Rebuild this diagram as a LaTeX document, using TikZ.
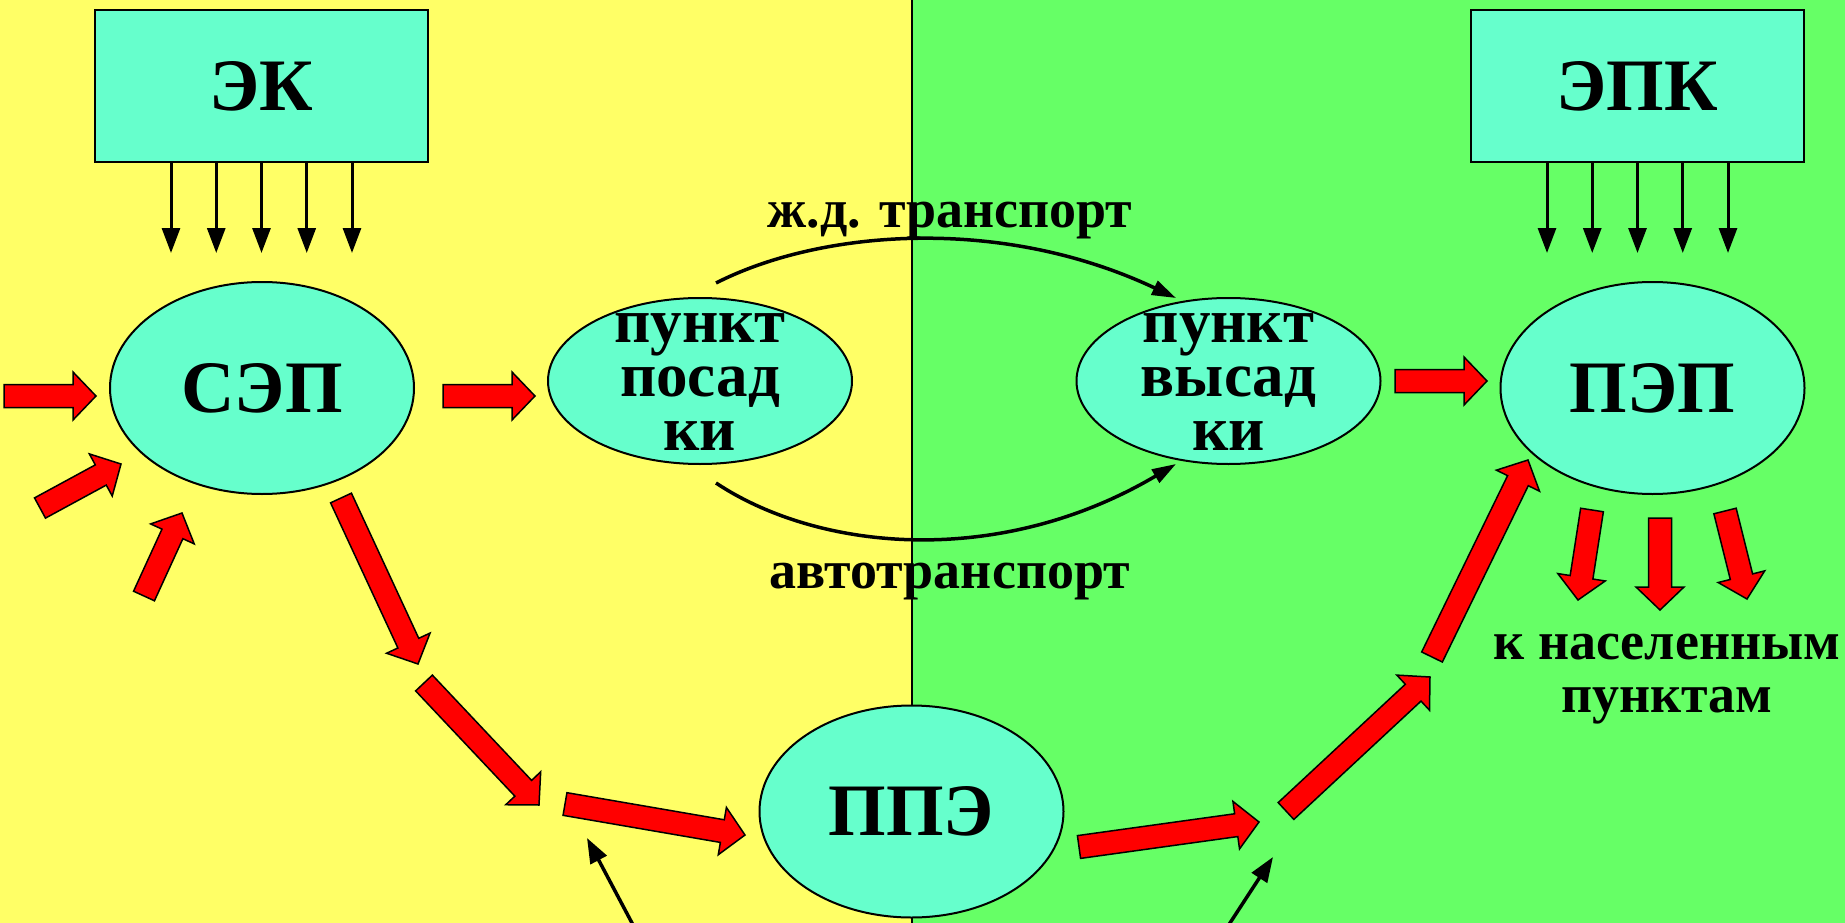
\documentclass[tikz,border=0pt]{standalone}
\usepackage{fontspec}
\setmainfont{Liberation Serif}
\newfontfamily\tnr{Liberation Serif}[BoldFont={Liberation Serif Bold}]
\usetikzlibrary{calc,arrows.meta,shapes.geometric}
\definecolor{bgyellow}{RGB}{255,255,102}
\definecolor{bggreen}{RGB}{102,255,102}
\definecolor{nodecyan}{RGB}{102,255,204}
\definecolor{arrred}{RGB}{255,0,0}
\newcommand\fatarr[2]{%
  \coordinate (fahead) at ($(#2)!23pt!(#1)$);
  \draw[fatarrow] ($(#1)!11.5pt!90:(#2)$) -- ($(fahead)!11.5pt!90:(#2)$) -- ($(fahead)!24pt!90:(#2)$) -- (#2) -- ($(fahead)!24pt!-90:(#2)$) -- ($(fahead)!11.5pt!-90:(#2)$) -- ($(#1)!11.5pt!-90:(#2)$) -- cycle;}
\begin{document}
\begin{tikzpicture}[x=1pt,y=-1pt,
  fatarrow/.style={draw=black,fill=arrred,line width=1.5pt,line join=miter},
  bigtxt/.style={font=\tnr\bfseries\fontsize{74}{80}\selectfont},
  midtxt/.style={font=\tnr\bfseries\fontsize{63}{54}\selectfont,align=center,inner sep=0pt},
  labtxt/.style={font=\tnr\bfseries\fontsize{54}{53}\selectfont,align=center,inner sep=0pt},
  boxnode/.style={draw=black,line width=2pt,fill=nodecyan,minimum width=333pt,minimum height=152pt,inner sep=0pt,bigtxt},
  bigell/.style={ellipse,draw=black,line width=2pt,fill=nodecyan,minimum width=304pt,minimum height=212pt,inner sep=0pt,bigtxt},
  smallell/.style={ellipse,draw=black,line width=2pt,fill=nodecyan,minimum width=304pt,minimum height=166pt,inner sep=0pt},
  thinarrow/.style={draw=black,line width=3pt,-{Triangle[length=25pt,width=18pt]}},
  curvearrow/.style={draw=black,line width=3.5pt,-{Triangle[length=24pt,width=15pt]}}]
\useasboundingbox (0,0) rectangle (1845,923);
\fill[bgyellow] (0,0) rectangle (912,923);
\fill[bggreen] (912,0) rectangle (1845,923);
\coordinate (bordertop) at (912,0);
\coordinate (borderbot) at (912,923);
\draw[line width=2pt] (bordertop) -- (borderbot);

% boxes
\node[boxnode] (ek) at (261.5,86) {ЭК};
\node[boxnode] (epk) at (1637.5,86) {ЭПК};

% ellipses
\node[bigell] (sep) at (262,388) {СЭП};
\node[bigell] (pep) at (1652.5,388) {ПЭП};
\node[bigell] (ppe) at (911.5,811.5) {ППЭ};
\node[smallell] (posadki) at (700,381) {};
\node[smallell] (vysadki) at (1228.5,381) {};
\node[midtxt] (posadkitxt) at (700,382) {пункт\\посад\\ки};
\node[midtxt] (vysadkitxt) at (1228.5,382) {пункт\\высад\\ки};

% labels
\node[labtxt,anchor=base] (rail) at (950,227) {ж.д. транспорт};
\node[labtxt,anchor=base] (auto) at (950,588) {автотранспорт};
\node[labtxt,anchor=base] (towns1) at (1667,659) {к населенным};
\node[labtxt,anchor=base] (towns2) at (1667,712) {пунктам};

% thin arrows from boxes
\foreach \dx in {-90.5,-45.25,0,45.25,90.5}{
  \draw[thinarrow] ($(ek.south)+(\dx,0)$) -- ++(0,90);
  \draw[thinarrow] ($(epk.south)+(\dx,0)$) -- ++(0,90);
}

% transport curves
\coordinate (railstart) at (716,283);
\coordinate (railend) at (1176,298);
\coordinate (autostart) at (716,483);
\coordinate (autoend) at (1176,464);
\draw[curvearrow] (railstart) .. controls (820,230) and (1000,215) .. (railend);
\draw[curvearrow] (autostart) .. controls (820,552) and (1000,568) .. (autoend);

% bottom thin arrows
\coordinate (inl) at (635.7,930);
\coordinate (inlend) at (587,838);
\coordinate (inr) at (1225.4,930);
\coordinate (inrend) at (1273,857);
\draw[thinarrow,line width=3.5pt] (inl) -- (inlend);
\draw[thinarrow,line width=3.5pt] (inr) -- (inrend);

% fat red arrows
\coordinate (a1t) at (4,396);     \coordinate (a1h) at (96,396);
\coordinate (a2t) at (40,508);    \coordinate (a2h) at (121,464);
\coordinate (a3t) at (144,596);   \coordinate (a3h) at (182,513);
\coordinate (a4t) at (443,396);   \coordinate (a4h) at (535,396);
\coordinate (a5t) at (1395,381);  \coordinate (a5h) at (1487,381);
\coordinate (aAt) at (341,498);   \coordinate (aAh) at (418,664);
\coordinate (aBt) at (424,683);   \coordinate (aBh) at (539,805);
\coordinate (aCt) at (565,804);   \coordinate (aCh) at (745,835);
\coordinate (aDt) at (1079,847);  \coordinate (aDh) at (1259,822);
\coordinate (aEt) at (1286,811);  \coordinate (aEh) at (1430,677);
\coordinate (aFt) at (1432,657);  \coordinate (aFh) at (1528,460);
\coordinate (dLt) at (1592,510);  \coordinate (dLh) at (1578,600);
\coordinate (dMt) at (1660,518);  \coordinate (dMh) at (1660,610);
\coordinate (dRt) at (1725,511);  \coordinate (dRh) at (1747,599);
\fatarr{a1t}{a1h}
\fatarr{a2t}{a2h}
\fatarr{a3t}{a3h}
\fatarr{a4t}{a4h}
\fatarr{a5t}{a5h}
\fatarr{aAt}{aAh}
\fatarr{aBt}{aBh}
\fatarr{aCt}{aCh}
\fatarr{aDt}{aDh}
\fatarr{aEt}{aEh}
\fatarr{aFt}{aFh}
\fatarr{dLt}{dLh}
\fatarr{dMt}{dMh}
\fatarr{dRt}{dRh}
\end{tikzpicture}
\end{document}
